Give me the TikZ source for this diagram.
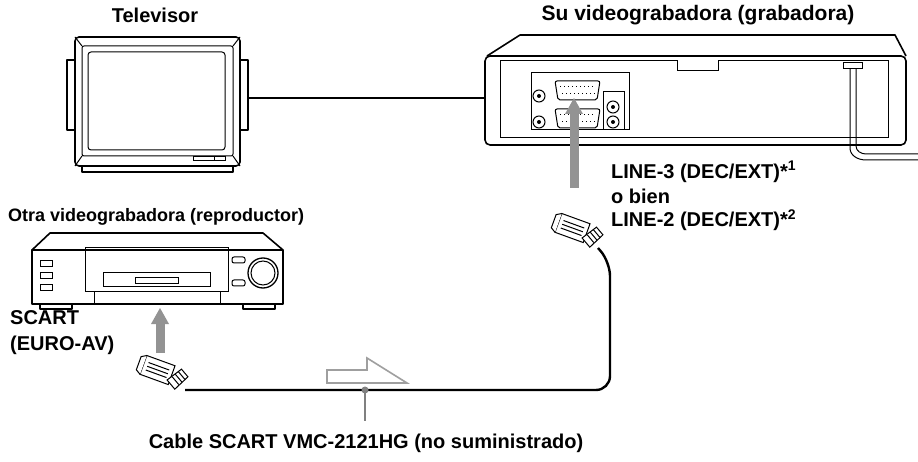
\documentclass[tikz,border=0pt]{standalone}
\usepackage{fontspec}
\setmainfont{Liberation Sans}
\usetikzlibrary{calc}

\tikzset{
    lbl/.style={font=\fontsize{20}{24}\selectfont\bfseries, inner sep=0pt},
    body/.style={line width=1.6pt, line join=round, fill=white},
    thin/.style={line width=1pt},
    push/.style={line width=9pt, draw=gray!85},
    cord/.style={line width=2.4pt},
    plug/.pic={
        \begin{scope}[rotate=-20]
        \draw[thin, fill=white] (-18,-11) rectangle (12,9);
        \draw[thin, fill=white] (-18,-11) -- (-23,-8) -- (-23,6) -- (-18,9);
        \foreach \yy in {-5,-1,3} \draw[thin] (-14,\yy) -- (8,\yy);
        \end{scope}
        \begin{scope}[shift={(14,10)}, rotate=40]
        \draw[thin, fill=white] (-4,-6) -- (14,-5) -- (14,5) -- (-4,6) -- cycle;
        \foreach \xx in {2,6,10} \draw[thin] (\xx,-5) -- (\xx,5);
        \end{scope}
    }
}

\begin{document}
\begin{tikzpicture}[x=1pt, y=-1pt]
    \useasboundingbox (0,0) rectangle (918,462);

    % Televisor
    \node[lbl] (tvlabel) at (155,15) {Televisor};
    \draw[body] (67,60) rectangle (75,130);
    \draw[body] (240,60) rectangle (248,130);
    \draw[body] (82,160) rectangle (233,172);
    \draw[body, rounded corners=4pt] (75,37) rectangle (240,166);
    \draw[thin, rounded corners=2pt] (82,46) rectangle (233,156);
    \draw[thin, rounded corners=3pt] (88,52) rectangle (225,150);
    \draw[thin] (75,37) -- (82,46) (240,37) -- (233,46) (75,166) -- (82,156) (240,166) -- (233,156);
    \draw[thin] (193,157) rectangle (225,161) (214,157) -- (214,161);
    \coordinate (tvout) at (248,98);

    % Su videograbadora
    \node[lbl, font=\fontsize{21}{24}\selectfont\bfseries] (reclabel) at (698,15) {Su videograbadora (grabadora)};
    \draw[body] (487,56) -- (520,35) -- (895,35) -- (906,56);
    \draw[body, rounded corners=5pt] (485,56) rectangle (906,145);
    \draw[thin] (500,61) -- (677,61) -- (677,71) -- (718,71) -- (718,61) -- (888,61) -- (888,138) -- (500,138) -- cycle;
    \draw[thin] (531,73) rectangle (629,130);
    \foreach \yy in {81,109} {
        \draw[thin, fill=white, rounded corners=2pt] (555,\yy) -- (600,\yy) -- (597,\yy+19) -- (558,\yy+19) -- cycle;
        \foreach \xx in {560,564,...,594} \draw[line width=0.6pt] (\xx,\yy+5) -- (\xx+1,\yy+5) (\xx+2,\yy+12) -- (\xx+3,\yy+12);
    }
    \draw[thin] (603,92) rectangle (624,130);
    \foreach \cx/\cy in {539/96, 539/122, 613/107, 613/122} {
        \draw[thin] (\cx,\cy) circle (6);
        \fill (\cx,\cy) circle (2);
    }
    \coordinate (recin) at (485,98);
    \draw[cord] (tvout) -- (recin);
    % antenna
    \draw[thin, fill=white] (843,63) rectangle (862,69);
    \draw[line width=1pt] (850,69) -- (850,148) to[out=-90, in=180] (866,160) -- (918,160);
    \draw[line width=1pt] (856,69) -- (856,146) to[out=-90, in=180] (866,154) -- (918,154);

    % Otra videograbadora
    \node[lbl, anchor=west, font=\fontsize{18}{22}\selectfont\bfseries] (playlabel) at (8,217) {Otra videograbadora (reproductor)};
    \draw[body] (32,250) -- (50,233) -- (263,233) -- (283,250);
    \draw[body] (40,302) rectangle (72,309);
    \draw[body] (243,302) rectangle (275,309);
    \draw[body] (32,250) rectangle (283,304);
    \draw[thin] (85,248) rectangle (228,292);
    \draw[thin] (103,273) rectangle (210,287);
    \draw[thin] (135,278) rectangle (178,284);
    \draw[thin] (94,292) rectangle (220,304);
    \foreach \yy in {264,276,288} \draw[thin] (40,\yy-3) rectangle (52,\yy+3);
    \foreach \yy in {260,283} \draw[thin, rounded corners=2pt] (232,\yy-3) rectangle (245,\yy+3);
    \draw[line width=1.3pt] (263,273) circle (15);
    \draw[thin] (263,273) circle (12);
    \node[lbl, anchor=west] (scart) at (10,318) {SCART};
    \node[lbl, anchor=west] (euroav) at (10,345) {(EURO-AV)};

    % plugs, push arrows and cable
    \pic at (160,372) {plug};
    \pic at (575,230) {plug};
    \coordinate (plugA) at (185,390);
    \coordinate (plugB) at (598,248);
    \draw[push] (160,353) -- (160,322);
    \fill[gray!85] (151,324) -- (169,324) -- (160,308) -- cycle;
    \draw[push] (574,188) -- (574,112);
    \fill[gray!85] (565,114) -- (583,114) -- (574,98) -- cycle;
    \draw[cord, rounded corners=14pt] (plugA) -- (610,390) -- (610,262) -- (plugB);

    \node[lbl, anchor=west] (line3) at (611,172) {LINE-3 (DEC/EXT)*\textsuperscript{1}};
    \node[lbl, anchor=west] (obien) at (611,196) {o bien};
    \node[lbl, anchor=west] (line2) at (611,220) {LINE-2 (DEC/EXT)*\textsuperscript{2}};

    % direction arrow and cable label
    \draw[line width=1.6pt, draw=gray!75, line join=miter] (327,370) -- (367,370) -- (367,358) -- (407,383) -- (327,383) -- cycle;
    \node[lbl] (cablelabel) at (366,443) {Cable SCART VMC-2121HG (no suministrado)};
    \coordinate (tap) at (365,390);
    \fill[gray] (tap) circle (3.5);
    \draw[line width=1.6pt, gray] (tap) -- (365,421);
\end{tikzpicture}
\end{document}
